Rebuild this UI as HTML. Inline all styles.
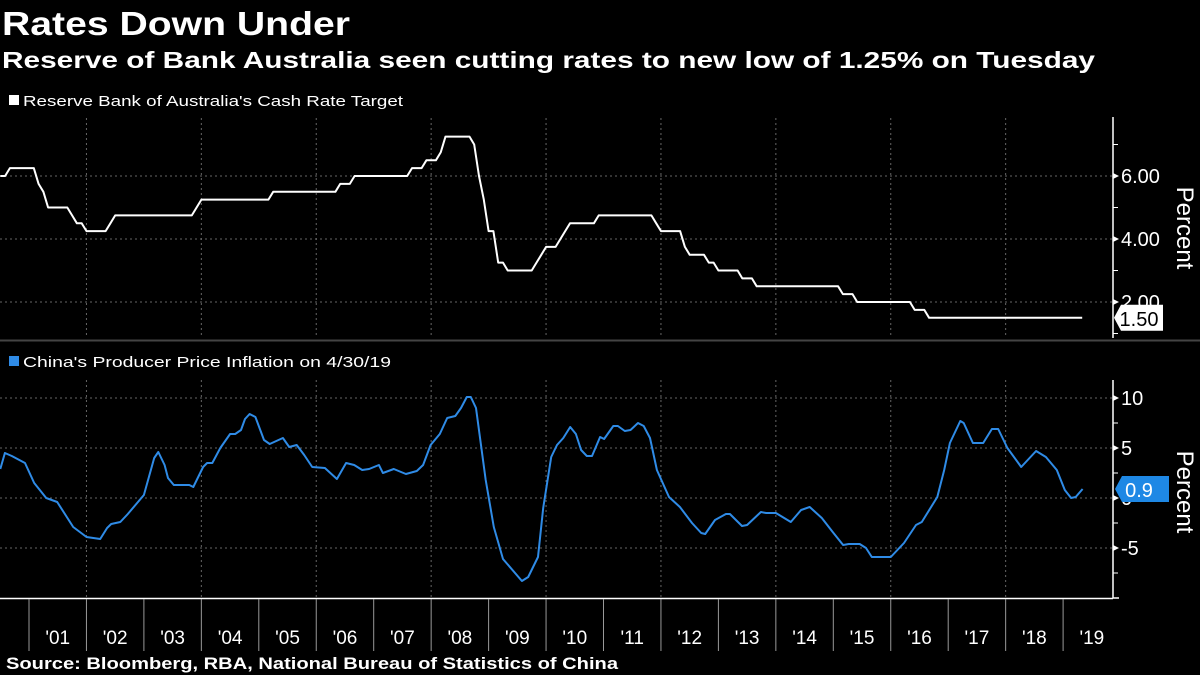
<!DOCTYPE html>
<html><head><meta charset="utf-8"><style>
html,body{margin:0;padding:0;background:#000;}
svg{display:block;font-family:"Liberation Sans","DejaVu Sans",sans-serif;}
</style></head><body>
<svg id="chart" width="1200" height="675" viewBox="0 0 1200 675">
<rect width="1200" height="675" fill="#000"/>
<text x="2" y="35" fill="#fff" font-size="33" font-weight="bold" textLength="348" lengthAdjust="spacingAndGlyphs">Rates Down Under</text>
<text x="2" y="68" fill="#fff" font-size="23" font-weight="bold" textLength="1093" lengthAdjust="spacingAndGlyphs">Reserve of Bank Australia seen cutting rates to new low of 1.25% on Tuesday</text>
<g>
<rect x="9" y="95" width="10" height="10" fill="#fff"/>
<text x="23" y="106" fill="#fff" font-size="15" textLength="380" lengthAdjust="spacingAndGlyphs">Reserve Bank of Australia's Cash Rate Target</text>
</g>
<g>
<rect x="9" y="356" width="10" height="10" fill="#2f8be6"/>
<text x="23" y="367" fill="#fff" font-size="15" textLength="368" lengthAdjust="spacingAndGlyphs">China's Producer Price Inflation on 4/30/19</text>
</g>
<rect x="0" y="339.5" width="1200" height="2" fill="#444"/>
<g id="grid"></g>
<g id="axes"></g>
<g id="series"></g>
<text x="6" y="669" fill="#fff" font-size="16.5" font-weight="bold" textLength="612" lengthAdjust="spacingAndGlyphs">Source: Bloomberg, RBA, National Bureau of Statistics of China</text>
</svg>
<script>
const rateDates=["2000-06","2000-08","2001-02","2001-03","2001-04","2001-09","2001-10","2001-12","2002-05","2002-06","2003-11","2003-12","2005-03","2006-05","2006-08","2007-08","2007-11","2008-02","2008-03","2008-09","2008-10","2008-11","2008-12","2009-02","2009-04","2009-10","2009-11","2009-12","2010-03","2010-04","2010-05","2010-11","2011-11","2011-12","2012-05","2012-06","2012-10","2012-12","2013-05","2013-08","2015-02","2015-05","2016-05","2016-08"];
const rateValues=[6.00,6.25,5.75,5.50,5.00,4.75,4.50,4.25,4.50,4.75,5.00,5.25,5.50,5.75,6.00,6.25,6.50,6.75,7.25,7.00,6.00,5.25,4.25,3.25,3.00,3.25,3.50,3.75,4.00,4.25,4.50,4.75,4.50,4.25,3.75,3.50,3.25,3.00,2.75,2.50,2.25,2.00,1.75,1.50];
const rateEnd=2019.333;
const ppiDates=[2000.50,2000.58,2000.70,2000.93,2001.09,2001.30,2001.49,2001.77,2002.00,2002.24,2002.36,2002.43,2002.59,2002.72,2003.00,2003.18,2003.25,2003.36,2003.42,2003.52,2003.79,2003.86,2004.03,2004.10,2004.19,2004.33,2004.50,2004.59,2004.69,2004.76,2004.84,2004.94,2005.09,2005.19,2005.42,2005.53,2005.66,2005.79,2005.93,2006.15,2006.36,2006.52,2006.66,2006.80,2006.92,2007.09,2007.16,2007.35,2007.56,2007.75,2007.86,2007.99,2008.15,2008.28,2008.42,2008.52,2008.62,2008.69,2008.78,2008.95,2009.09,2009.25,2009.58,2009.69,2009.86,2009.95,2010.09,2010.19,2010.30,2010.42,2010.52,2010.61,2010.71,2010.80,2010.94,2011.01,2011.17,2011.25,2011.37,2011.47,2011.60,2011.70,2011.81,2011.93,2012.14,2012.33,2012.54,2012.70,2012.77,2012.94,2013.13,2013.20,2013.41,2013.50,2013.74,2013.83,2014.00,2014.26,2014.44,2014.59,2014.80,2014.99,2015.17,2015.27,2015.46,2015.57,2015.67,2016.00,2016.23,2016.44,2016.54,2016.81,2016.93,2017.03,2017.21,2017.27,2017.43,2017.61,2017.76,2017.87,2018.03,2018.27,2018.53,2018.70,2018.89,2019.03,2019.14,2019.22,2019.34];
const ppiValues=[2.9,4.5,4.2,3.5,1.5,0.0,-0.4,-2.9,-3.9,-4.1,-3.0,-2.6,-2.4,-1.6,0.3,4.0,4.6,3.3,2.0,1.3,1.3,1.1,3.1,3.5,3.5,5.0,6.4,6.4,6.8,7.9,8.4,8.1,5.8,5.4,6.0,5.1,5.3,4.3,3.1,3.0,1.9,3.5,3.3,2.8,2.9,3.3,2.5,2.9,2.4,2.7,3.3,5.3,6.4,8.0,8.2,9.0,10.1,10.1,9.0,1.8,-2.9,-6.1,-8.3,-7.9,-5.9,-1.0,4.1,5.3,6.0,7.1,6.4,4.8,4.2,4.2,6.1,5.9,7.2,7.2,6.7,6.8,7.5,7.2,6.0,2.8,0.1,-0.9,-2.5,-3.5,-3.6,-2.2,-1.6,-1.6,-2.8,-2.7,-1.4,-1.5,-1.5,-2.4,-1.2,-0.9,-2.0,-3.4,-4.7,-4.6,-4.6,-5.0,-5.9,-5.9,-4.5,-2.7,-2.4,0.1,2.8,5.5,7.7,7.5,5.5,5.5,6.9,6.9,5.0,3.1,4.7,4.1,2.8,0.8,0.0,0.1,0.9];
const yearLabels=["'01","'02","'03","'04","'05","'06","'07","'08","'09","'10","'11","'12","'13","'14","'15","'16","'17","'18","'19"];
const topTicks=[6,4,2];
const topMinor=[7,5,3,1];
const botTicks=[10,5,0,-5];
const botMinor=[7.5,2.5,-2.5,-7.5];
const lastRate=1.50, lastPpi=0.9;

const NS="http://www.w3.org/2000/svg";
const AX=1113;
const xS=t=>29+(t-2001)*57.45;
const yTop=v=>176-(v-6)*31.5;
const yBot=v=>498-v*10;
function mk(tag,attrs,parent,text){const e=document.createElementNS(NS,tag);for(const k in attrs)e.setAttribute(k,attrs[k]);if(text!==undefined)e.textContent=text;parent.appendChild(e);return e;}
const grid=document.getElementById('grid'),axes=document.getElementById('axes'),ser=document.getElementById('series');
const dash={stroke:"#666","stroke-width":1,"stroke-dasharray":"2,3"};
for(let y=2002;y<=2018;y+=2){const x=xS(y);
 let l=mk('line',Object.assign({x1:x,x2:x,y1:118,y2:338},dash),grid);
 
 
 l=mk('line',Object.assign({x1:x,x2:x,y1:380,y2:598},dash),grid);
 
 }
topTicks.forEach(v=>{const y=yTop(v);
 let l=mk('line',Object.assign({x1:0,x2:AX,y1:y,y2:y},dash),grid);
 
 
 mk('path',{d:`M${AX} ${y-3}L${AX+6} ${y}L${AX} ${y+3}Z`,fill:"#fff"},axes);
 const t=mk('text',{x:AX+8,y:y+7,fill:"#fff","font-size":20},axes,v.toFixed(2));
 
 });
topMinor.forEach(v=>{const y=yTop(v);mk('line',{x1:AX,x2:AX+5,y1:y,y2:y,stroke:"#fff","stroke-width":1},axes);});
let a=mk('line',{x1:AX,x2:AX,y1:117,y2:338,stroke:"#fff","stroke-width":1.5},axes);


let tt=mk('text',{transform:`translate(1177,228) rotate(90)`,fill:"#fff","font-size":24,"text-anchor":"middle"},axes,"Percent");


botTicks.forEach(v=>{const y=yBot(v);
 let l=mk('line',Object.assign({x1:0,x2:AX,y1:y,y2:y},dash),grid);
 
 
 mk('path',{d:`M${AX} ${y-3}L${AX+6} ${y}L${AX} ${y+3}Z`,fill:"#fff"},axes);
 const t=mk('text',{x:AX+8,y:y+7,fill:"#fff","font-size":20},axes,String(v));
 
 });
botMinor.forEach(v=>{const y=yBot(v);mk('line',{x1:AX,x2:AX+5,y1:y,y2:y,stroke:"#fff","stroke-width":1},axes);});
a=mk('line',{x1:AX,x2:AX,y1:380,y2:598,stroke:"#fff","stroke-width":1.5},axes);


mk('line',{x1:AX,x2:AX+6,y1:598,y2:598,stroke:"#fff","stroke-width":1.5},axes);
tt=mk('text',{transform:`translate(1177,492) rotate(90)`,fill:"#fff","font-size":24,"text-anchor":"middle"},axes,"Percent");


a=mk('line',{x1:0,x2:AX,y1:598.5,y2:598.5,stroke:"#fff","stroke-width":1.5},axes);


yearLabels.forEach((lab,i)=>{const y0=2001+i;const x=xS(y0);
 mk('line',{x1:x,x2:x,y1:599,y2:651,stroke:"#999","stroke-width":1},axes);
 const t=mk('text',{x:xS(y0+0.5),y:644,fill:"#fff","font-size":19,"text-anchor":"middle"},axes,lab);
 
 });
const toT=s=>{const p=s.split('-');return +p[0]+(+p[1])/12;};
let pts=[[toT(rateDates[0]),rateValues[0]]];
for(let i=1;i<rateDates.length;i++){const t=toT(rateDates[i]);pts.push([t-1/12,rateValues[i-1]]);pts.push([t,rateValues[i]]);}
pts.push([rateEnd,rateValues[rateValues.length-1]]);
const rl=mk('polyline',{points:pts.map(p=>xS(p[0]).toFixed(1)+','+yTop(p[1]).toFixed(1)).join(' '),fill:"none",stroke:"#fff","stroke-width":2,"stroke-linejoin":"round"},ser);


const pl=mk('polyline',{points:ppiDates.map((t,i)=>xS(t).toFixed(1)+','+yBot(ppiValues[i]).toFixed(1)).join(' '),fill:"none",stroke:"#2f8be6","stroke-width":2,"stroke-linejoin":"round"},ser);


let y=yTop(lastRate);
const g1=mk('g',{},ser);


mk('path',{d:`M${AX+1} ${y}L${AX+8} ${y-13}H1163V${y+13}H${AX+8}Z`,fill:"#fff"},g1);
mk('text',{x:1139,y:y+8,fill:"#000","font-size":20,"text-anchor":"middle"},g1,lastRate.toFixed(2));
y=yBot(lastPpi);
const g2=mk('g',{},ser);


mk('path',{d:`M${AX+2} ${y}L${AX+9} ${y-13}H1169V${y+13}H${AX+9}Z`,fill:"#1e88e5"},g2);
mk('text',{x:1139,y:y+8,fill:"#fff","font-size":20,"text-anchor":"middle"},g2,String(lastPpi));
</script>
</body></html>
